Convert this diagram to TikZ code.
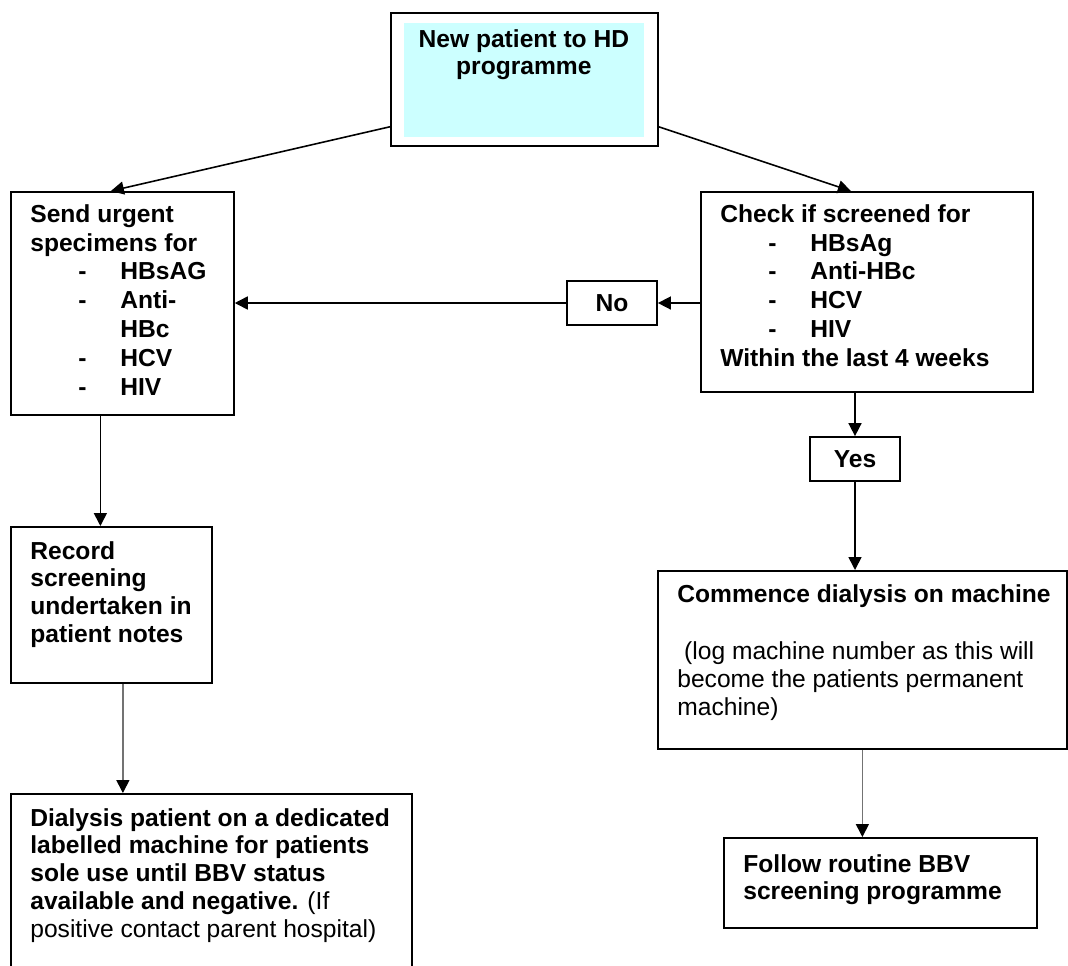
\documentclass[tikz,border=0pt]{standalone}
\usepackage{fontspec}
\setmainfont{Liberation Sans}
\usetikzlibrary{arrows.meta,positioning,calc}

\definecolor{hdcyan}{RGB}{204,255,255}
\newcommand{\screenitem}[1]{\hspace*{0.96cm}\makebox[0.84cm][l]{-}#1}

\begin{document}
\begin{tikzpicture}[
  box/.style={draw, line width=1pt, rectangle, anchor=north west, inner sep=0pt},
  txt/.style={anchor=north west, align=left, inner sep=0pt, font=\fontsize{14}{15.8}\selectfont\bfseries},
  listtxt/.style={txt, font=\fontsize{14}{16.4}\selectfont\bfseries},
  tag/.style={draw, line width=1pt, minimum width=1.8cm, minimum height=0.88cm, inner sep=0pt, font=\fontsize{14}{15.8}\selectfont\bfseries},
  arr/.style={-{Triangle[length=0.26cm, width=0.26cm, color=black]}, line width=0.9pt}
]
  \useasboundingbox (0,0) rectangle (21.36,-19.3);

  % boxes
  \node[box, minimum width=5.34cm, minimum height=2.66cm] (start) at (7.8,-0.24) {};
  \node[box, draw=none, fill=hdcyan, minimum width=4.8cm, minimum height=2.28cm] (startfill) at (8.06,-0.44) {};
  \node[box, minimum width=4.46cm, minimum height=4.46cm] (send) at (0.2,-3.82) {};
  \node[box, minimum width=6.64cm, minimum height=4.0cm] (check) at (14.0,-3.82) {};
  \node[box, minimum width=4.02cm, minimum height=3.12cm] (record) at (0.2,-10.52) {};
  \node[box, minimum width=8.18cm, minimum height=3.56cm] (commence) at (13.14,-11.4) {};
  \node[box, minimum width=6.26cm, minimum height=1.8cm] (follow) at (14.46,-16.74) {};
  \node[box, minimum width=8.02cm, minimum height=4.6cm] (dialysis) at (0.2,-15.86) {};
  \node[tag] (no) at (12.24,-6.06) {No};
  \node[tag] (yes) at (17.1,-9.18) {Yes};

  % texts
  \node[txt, anchor=north, align=center] (starttxt) at ([yshift=-0.14cm]startfill.north)
    {New patient to HD\\programme};
  \node[listtxt] (sendtxt) at ([shift={(0.4,-0.26)}]send.north west)
    {Send urgent\\specimens for\\\screenitem{HBsAG}\\\screenitem{Anti-}\\\hspace*{1.8cm}HBc\\\screenitem{HCV}\\\screenitem{HIV}};
  \node[listtxt] (checktxt) at ([shift={(0.4,-0.26)}]check.north west)
    {Check if screened for\\\screenitem{HBsAg}\\\screenitem{Anti-HBc}\\\screenitem{HCV}\\\screenitem{HIV}\\Within the last 4 weeks};
  \node[txt] (recordtxt) at ([shift={(0.4,-0.3)}]record.north west)
    {Record\\screening\\undertaken in\\patient notes};
  \node[txt] (commencetxt) at ([shift={(0.4,-0.28)}]commence.north west)
    {Commence dialysis on machine\\[0.6cm]
     {\mdseries\ (log machine number as this will}\\
     {\mdseries become the patients permanent}\\
     {\mdseries machine)}};
  \node[txt] (followtxt) at ([shift={(0.4,-0.34)}]follow.north west)
    {Follow routine BBV\\screening programme};
  \node[txt] (dialysistxt) at ([shift={(0.4,-0.3)}]dialysis.north west)
    {Dialysis patient on a dedicated\\labelled machine for patients\\sole use until BBV status\\available and negative. {\mdseries (If}\\{\mdseries positive contact parent hospital)}};

  % connectors
  \coordinate (sendout) at ([xshift=-0.44cm]send.south);
  \coordinate (recordout) at ([xshift=0.23cm]record.south);
  \draw[arr] ([yshift=0.4cm]start.south west) -- ([xshift=-0.23cm]send.north);
  \draw[arr] ([yshift=0.4cm]start.south east) -- ([xshift=-0.32cm]check.north);
  \draw[arr] (check.west |- no.east) -- (no.east);
  \draw[arr] (no.west) -- (no.west -| send.east);
  \draw[arr] (check.south -| yes.north) -- (yes.north);
  \draw[arr] (yes.south) -- (yes.south |- commence.north);
  \draw[arr] (sendout) -- (sendout |- record.north);
  \draw[arr, draw=black!55] (recordout) -- (recordout |- dialysis.north);
  \draw[arr, draw=black!55] (commence.south) -- (commence.south |- follow.north);
\end{tikzpicture}
\end{document}
